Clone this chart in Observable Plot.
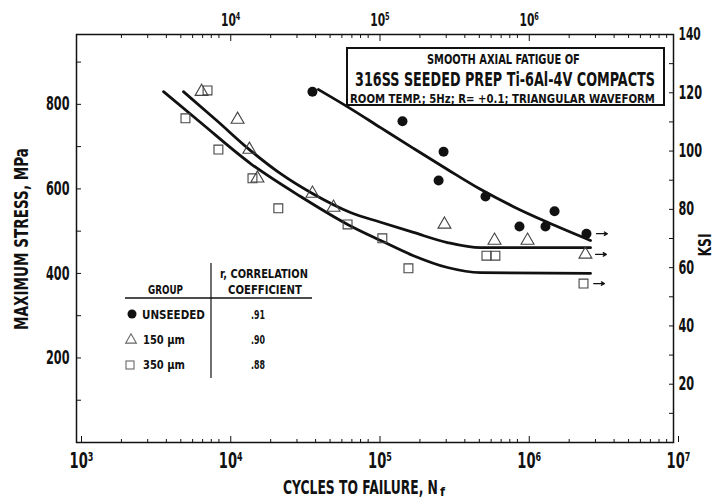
<!DOCTYPE html>
<html><head><meta charset="utf-8">
<script src="https://cdn.jsdelivr.net/npm/d3@7"></script>
<script src="https://cdn.jsdelivr.net/npm/@observablehq/plot@0.6"></script>
<style>body{margin:0;background:#fff} svg{display:block}</style>
</head><body><div id="chart"></div>
<script>
// ---- data (cycles to failure, maximum stress MPa) ----
const unseededN = [38100, 152800, 288000, 266800, 550000, 929000, 1387000, 1596000, 2611000];
const unseededS = [830, 760, 688, 620, 582, 511, 511, 547, 494];

const seed150N = [6890, 12000, 14400, 16300, 38100, 52700, 292000, 632000, 1052000, 2570000];
const seed150S = [830, 764, 693, 625, 589, 556, 516, 478, 478, 445];

const seed350N = [5370, 7550, 8930, 15100, 22500, 65500, 112000, 167500, 558000, 641000, 2495000];
const seed350S = [767, 833, 693, 625, 554, 516, 483, 412, 442, 442, 376];

// fitted curves
const fitUnseededN = [41800, 68500, 109000, 181000, 306000, 509000, 847000, 1432000, 2780000];
const fitUnseededS = [835, 790, 745, 696, 646, 599, 558, 521, 478];
const fit150N = [5210, 8810, 14400, 23300, 38100, 68500, 109000, 181000, 306000, 509000, 2780000];
const fit150S = [830, 760, 693, 636, 589, 544, 521, 497, 473, 461, 461];
const fit350N = [3830, 6780, 14650, 31700, 65500, 109000, 181000, 306000, 509000, 2780000];
const fit350S = [830, 757, 660, 582, 516, 478, 442, 414, 402, 400];

// legend table
const groups = ["UNSEEDED", "150 μm", "350 μm"];
const correlations = [".91", ".90", ".88"];

// tick labels
const bottomDecades = [1e3, 1e4, 1e5, 1e6, 1e7];
const topDecades = [1e4, 1e5, 1e6];
const mpaTicks = [100, 200, 300, 400, 500, 600, 700, 800, 900];
const mpaLabels = [200, 400, 600, 800];
const ksiTicks = [10, 20, 30, 40, 50, 60, 70, 80, 90, 100, 110, 120, 130];
const ksiLabels = [20, 40, 60, 80, 100, 120, 140];

const titleLines = ["SMOOTH AXIAL FATIGUE OF", "316SS SEEDED PREP Ti-6Al-4V COMPACTS", "ROOM TEMP.; 5Hz; R= +0.1; TRIANGULAR WAVEFORM"];

// ---- build ----
const MPA_PER_KSI = 6.894757;
const FONT = "'Liberation Sans Narrow','DejaVu Sans Condensed','Arial Narrow',sans-serif";
const sup = {3: "³", 4: "⁴", 5: "⁵", 6: "⁶", 7: "⁷"};
const fmtPow = d => "10" + sup[Math.round(Math.log10(d))];
const minorLog = d3.range(3, 7).flatMap(e => d3.range(2, 10).map(m => m * 10 ** e));

const zip = (N, S) => N.map((n, i) => ({n, s: S[i]}));
const unseeded = zip(unseededN, unseededS);
const s150 = zip(seed150N, seed150S);
const s350 = zip(seed350N, seed350S);
const runouts = [unseeded[unseeded.length - 1], s150[s150.length - 1], s350[s350.length - 1]];

const plot = Plot.plot({
  width: 716, height: 498,
  marginLeft: 76, marginRight: 43, marginTop: 34, marginBottom: 56,
  style: {fontFamily: FONT, fontWeight: "bold", background: "#fff", color: "#111"},
  x: {type: "log", domain: [1e3, 1e7]},
  y: {domain: [0, 140 * MPA_PER_KSI]},
  marks: [
    Plot.axisX({anchor: "bottom", ticks: bottomDecades, tickSize: -6, tickPadding: 16, fontSize: 22, tickFormat: fmtPow, label: null, dx: 5}),
    Plot.axisX({anchor: "bottom", ticks: minorLog, tickSize: -3, tickFormat: () => "", label: null}),
    Plot.axisX({anchor: "top", ticks: topDecades, tickSize: -6, tickPadding: 15, fontSize: 18, tickFormat: fmtPow, label: null, dx: 5}),
    Plot.axisX({anchor: "top", ticks: minorLog, tickSize: -3, tickFormat: () => "", label: null}),
    Plot.axisY({anchor: "left", ticks: mpaTicks, tickSize: -5, tickFormat: () => "", label: null}),
    Plot.axisY({anchor: "left", ticks: mpaLabels, tickSize: 0, tickPadding: 7, fontSize: 19, label: null}),
    Plot.axisY({anchor: "right", ticks: ksiTicks.map(k => k * MPA_PER_KSI), tickSize: -5, tickFormat: () => "", label: null}),
    Plot.axisY({anchor: "right", ticks: ksiLabels.map(k => k * MPA_PER_KSI), tickSize: 0, tickPadding: 5, fontSize: 19, tickFormat: d => String(Math.round(d / MPA_PER_KSI)), label: null}),
    Plot.frame({stroke: "#111", strokeWidth: 1.5}),
    Plot.line(zip(fitUnseededN, fitUnseededS), {x: "n", y: "s", curve: "monotone-x", stroke: "#111", strokeWidth: 2.8}),
    Plot.line(zip(fit150N, fit150S), {x: "n", y: "s", curve: "monotone-x", stroke: "#111", strokeWidth: 2.8}),
    Plot.line(zip(fit350N, fit350S), {x: "n", y: "s", curve: "monotone-x", stroke: "#111", strokeWidth: 2.8}),
    Plot.dot(unseeded, {x: "n", y: "s", r: 5, fill: "#111", stroke: "none"}),
    Plot.dot(s150, {x: "n", y: "s", symbol: "triangle", r: 4.8, fill: "none", stroke: "#444", strokeWidth: 1.1}),
    Plot.dot(s350, {x: "n", y: "s", symbol: "square", r: 5, fill: "none", stroke: "#444", strokeWidth: 1.1}),
    Plot.arrow(runouts, {x1: d => d.n * 1.17, x2: d => d.n * 1.38, y1: "s", y2: "s", stroke: "#111", strokeWidth: 1.3, headLength: 4})
  ]
});

document.getElementById("chart").appendChild(plot);

// squeeze a text horizontally about its own anchor point (keeps the real text, mimics narrow lettering)
function squeeze(t, sx) {
  const xa = t.getAttribute("x");
  const x = xa && !isNaN(+xa) ? +xa : 0;
  if (xa && !isNaN(+xa)) t.removeAttribute("x");
  const T = t.getAttribute("transform") || "";
  t.setAttribute("transform", `${T} translate(${x},0) scale(${sx.toFixed(3)},1)`);
}

// axis tick labels
plot.querySelectorAll("text").forEach(t => {
  if (!t.textContent) { t.remove(); return; }
  const b = t.getBoundingClientRect();
  const cy = b.y + b.height / 2;
  t.style.fontSize = (cy > 442 ? 22 : cy < 34 ? 18 : 19) + "px";
});
plot.querySelectorAll("text").forEach(t => squeeze(t, 0.66));

const svg = d3.select(plot);
// draws a text at natural size, then squeezes it to the requested length
const addText = (parent, o) => {
  const g = parent.append("g").attr("transform", `translate(${o.x},${o.y})${o.rotate ? ` rotate(${o.rotate})` : ""}`);
  const t = g.append("text").attr("text-anchor", o.anchor || "start").style("font-size", o.size + "px")
    .attr("font-family", FONT).attr("font-weight", "bold").attr("fill", "#111").text(o.text);
  const L = t.node().getComputedTextLength();
  if (o.len && L > 0) t.attr("transform", `scale(${(o.len / L).toFixed(3)},1)`);
  return t;
};

// axis titles
addText(svg, {x: 28, y: 239, rotate: -90, anchor: "middle", size: 20, len: 182, text: "MAXIMUM STRESS, MPa"});
addText(svg, {x: 711, y: 245, rotate: -90, anchor: "middle", size: 17, len: 23, text: "KSI"});
addText(svg, {x: 283, y: 494, size: 19, len: 155, text: "CYCLES TO FAILURE, N"});
addText(svg, {x: 440, y: 496, size: 12, len: 5, text: "f"});

// title box
const tb = svg.append("g");
tb.append("rect").attr("x", 347).attr("y", 48).attr("width", 317).attr("height", 57)
  .attr("fill", "#fff").attr("stroke", "#111").attr("stroke-width", 2);
addText(tb, {x: 427, y: 64, size: 14, len: 153, text: titleLines[0]});
addText(tb, {x: 355, y: 86, size: 19, len: 300, text: titleLines[1]});
addText(tb, {x: 350, y: 103, size: 13, len: 305, text: titleLines[2]});

// legend table
const lg = svg.append("g");
lg.append("line").attr("x1", 211).attr("x2", 211).attr("y1", 263).attr("y2", 378).attr("stroke", "#111").attr("stroke-width", 1.2);
lg.append("line").attr("x1", 125).attr("x2", 312).attr("y1", 298).attr("y2", 298).attr("stroke", "#111").attr("stroke-width", 1.4);
addText(lg, {x: 148, y: 294, size: 12, len: 35, text: "GROUP"});
addText(lg, {x: 220, y: 278, size: 12, len: 88, text: "r, CORRELATION"});
addText(lg, {x: 228, y: 294, size: 12, len: 74, text: "COEFFICIENT"});
const rowY = [319, 344, 369];
lg.append("circle").attr("cx", 132).attr("cy", 314).attr("r", 4.5).attr("fill", "#111");
lg.append("path").attr("d", d3.symbol(d3.symbolTriangle, 50)()).attr("transform", "translate(131,340)").attr("fill", "none").attr("stroke", "#666").attr("stroke-width", 1.1);
lg.append("rect").attr("x", 126).attr("y", 361).attr("width", 8).attr("height", 8).attr("fill", "none").attr("stroke", "#666").attr("stroke-width", 1.1);
groups.forEach((g, i) => {
  addText(lg, {x: i === 0 ? 142 : 143, y: rowY[i], size: 13, len: i === 0 ? 63 : 42, text: g});
  addText(lg, {x: 258, y: rowY[i], anchor: "middle", size: 13, len: 14, text: correlations[i]});
});
</script>
</body></html>
